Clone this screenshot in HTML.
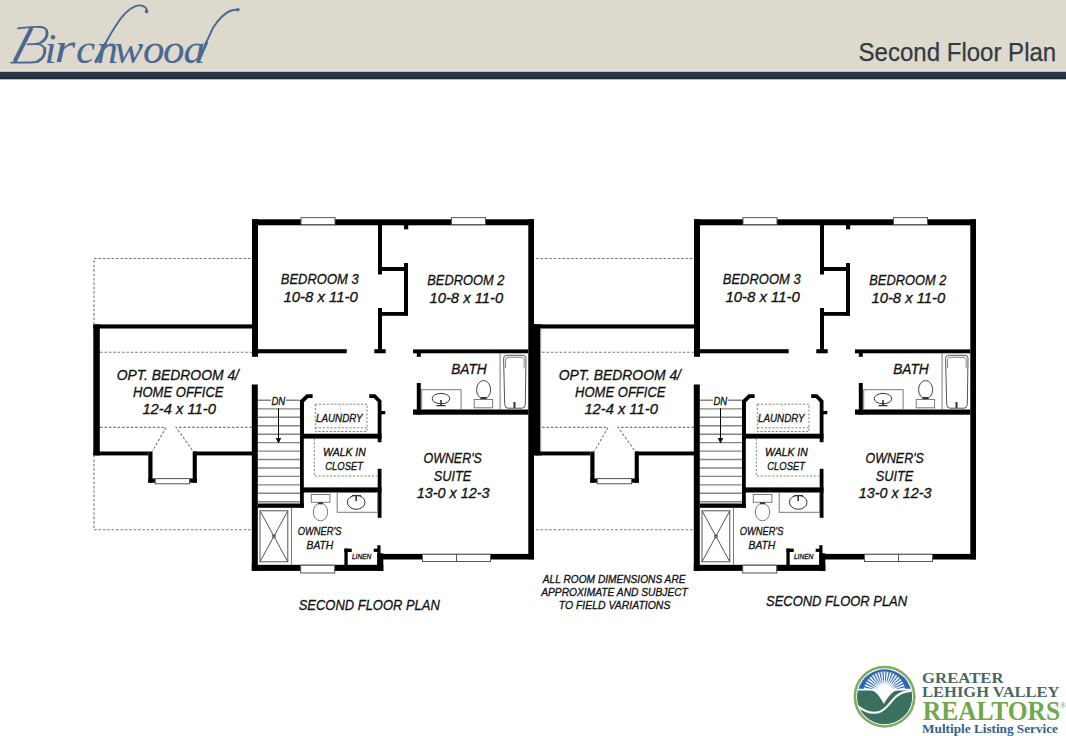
<!DOCTYPE html>
<html><head><meta charset="utf-8">
<style>
html,body{margin:0;padding:0;background:#fff;}
body{width:1066px;height:736px;overflow:hidden;position:relative;font-family:"Liberation Sans",sans-serif;}
svg{position:absolute;left:0;top:0;}
</style></head>
<body>
<svg width="1066" height="736" viewBox="0 0 1066 736">
<defs>
<g id="plan">
  <!-- dashed outlines -->
  <g fill="none" stroke="#7a7a7a" stroke-width="1.1" stroke-dasharray="2.6 1.8">
    <path d="M94 258.5 H252"/>
    <path d="M94 529.8 H252"/>
    <path d="M100 352.3 H252"/>
    <path d="M100 427.4 H166 L152.5 451"/>
    <path d="M252 427.4 H176 L193 451"/>
  </g>
  <!-- walls -->
  <g fill="#000">
    <rect x="252" y="219.3" width="282" height="6"/>
    <rect x="252" y="219.3" width="6" height="137.5"/>
    <rect x="528.3" y="219.3" width="5.7" height="340"/>
    <!-- closets between bedrooms -->
    <rect x="378" y="225" width="4" height="49.5"/>
    <rect x="382" y="267" width="22" height="4"/>
    <rect x="404" y="263" width="4" height="52.5"/>
    <rect x="382" y="312" width="26" height="3.8"/>
    <rect x="378" y="308" width="4" height="45"/>
    <rect x="374.3" y="349.2" width="11.4" height="4.1"/>
    <rect x="404" y="225" width="4.2" height="4.3"/>
    <!-- bedroom bottoms -->
    <rect x="258" y="349.2" width="88.7" height="4.1"/>
    <rect x="413" y="349.4" width="115.3" height="3.9"/>
    <rect x="416.8" y="353" width="4" height="3.8"/>
    <!-- bath -->
    <rect x="416.8" y="383" width="4" height="31.6"/>
    <rect x="413" y="409.5" width="115.3" height="5.2"/>
    <!-- opt bedroom 4 -->
    <rect x="93.3" y="324.4" width="158.7" height="4.1"/>
    <rect x="93.3" y="324.4" width="6.5" height="131"/>
    <rect x="93.3" y="451.5" width="55" height="3.9"/>
    <rect x="193" y="451.5" width="59" height="3.9"/>
    <rect x="148.3" y="451.5" width="4.2" height="31.2"/>
    <rect x="192.7" y="451.5" width="4.1" height="31.2"/>
    <rect x="148.3" y="478.5" width="48.5" height="4.2"/>
    <!-- stair -->
    <rect x="251.8" y="384.5" width="6" height="186.3"/>
    <rect x="300" y="400" width="3.8" height="107.8"/>
    <rect x="257.8" y="503.5" width="46" height="4.3"/>
    <!-- laundry -->
    <path d="M300 400.5 L306.5 394.3 H312.6 V398.1 H308.2 L303.8 402.3 V438.8 H300 Z"/>
    <path d="M369.2 394.3 H375.3 L381.5 400.5 V442.2 H377.7 V402.1 L373.8 398.1 H369.2 Z"/>
    <rect x="381" y="411" width="4.3" height="3.3"/>
    <rect x="300" y="433.7" width="81.5" height="4.9"/>
    <!-- closet -->
    <rect x="377.7" y="468.8" width="3.8" height="49"/>
    <rect x="300" y="487.4" width="81.5" height="5.1"/>
    <!-- owner's bath bottom -->
    <rect x="251.8" y="564.8" width="131.5" height="6.1"/>
    <!-- linen -->
    <rect x="344.4" y="548.6" width="3.3" height="17"/>
    <rect x="344.4" y="548.6" width="7.3" height="3.4"/>
    <rect x="377.3" y="545.2" width="3.2" height="20"/>
    <rect x="377.3" y="553.3" width="6" height="17.6"/>
    <rect x="373.7" y="548.7" width="5" height="3.2"/>
    <!-- owner's suite bottom -->
    <rect x="380" y="553.9" width="154" height="5.6"/>
  </g>
  <!-- windows -->
  <g fill="#fff" stroke="#555" stroke-width="1">
    <rect x="301" y="217.6" width="34" height="7"/>
    <rect x="451.5" y="217.6" width="34" height="7"/>
    <rect x="155.2" y="478.6" width="34.4" height="5.2"/>
    <rect x="300.7" y="565.2" width="34" height="7.8"/>
    <rect x="422.5" y="554.3" width="34" height="7.2"/>
    <rect x="456.5" y="554.3" width="34" height="7.2"/>
  </g>
  <!-- stairs -->
  <g stroke="#858585" stroke-width="1.4">
    <path d="M258 400.3 H271 M286 400.3 H300 M258 408.9 H300 M258 417.3 H300 M258 425.7 H300 M258 434.2 H300 M258 442.6 H300 M258 451.1 H300 M258 459.5 H300 M258 468 H300 M258 476.4 H300 M258 484.9 H300 M258 493.3 H300 M258 501.8 H300"/>
  </g>
  <path d="M278.5 408.3 V440" stroke="#000" stroke-width="1"/>
  <path d="M275.8 438 L281.2 438 L278.5 443.5 Z" fill="#000"/>
  <!-- laundry dashed -->
  <g fill="none" stroke="#777" stroke-width="0.9" stroke-dasharray="2.2 1.6">
    <rect x="315.3" y="404.2" width="51.7" height="27.3"/>
    <path d="M315.3 427.8 H367"/>
    <path d="M340.5 404.2 V431.5" stroke="#d0d0d0"/>
    <path d="M314.3 438.6 V476 H377"/>
  </g>
  <!-- bath fixtures -->
  <g fill="none" stroke="#7a7a7a" stroke-width="1">
    <rect x="421.7" y="389.7" width="39.4" height="19.8"/>
    <ellipse cx="441" cy="398.6" rx="8.8" ry="5.2" stroke="#333"/>
    <ellipse cx="483.6" cy="389.7" rx="7" ry="9.2" stroke="#444"/>
    <rect x="474.2" y="399.5" width="18.4" height="8.3" fill="#fff"/>
    <path d="M500.1 353.3 V409.5"/>
    <path d="M506.5 355.3 H523 Q526.2 355.3 526 358.5 L525.3 404.5 Q525.2 408.2 522 408.2 H508 Q504.8 408.2 504.7 404.5 L503.6 358.5 Q503.5 355.3 506.5 355.3 Z" stroke="#555"/>
    <path d="M505.6 368 L505.5 360 Q505.5 357.3 508 357.3 H521.8 Q524.3 357.3 524.2 360 L524 368" stroke="#888"/>
    <!-- owner's bath -->
    <rect x="311.3" y="494.5" width="18.6" height="7.8"/>
    <ellipse cx="320.5" cy="512" rx="7.2" ry="8.8"/>
    <rect x="337.2" y="492.5" width="40.5" height="19.8"/>
    <ellipse cx="356.2" cy="502.3" rx="8.8" ry="7" stroke="#333"/>
    <rect x="260" y="510.8" width="27.8" height="51" stroke="#555"/>
    <path d="M260 510.8 L287.8 561.8 M287.8 510.8 L260 561.8" stroke="#555"/>
    <path d="M291.5 507.8 V564.8"/>
    <circle cx="274" cy="536.3" r="1.6" stroke="#555"/>
  </g>
  <g fill="#333">
    <path d="M440.2 400 h1.6 v5 h-1.6z M436.5 405 h9 v1.3 h-9z"/>
    <path d="M355.4 496 h1.6 v5 h-1.6z M352 495 h9 v1.3 h-9z"/>
    <path d="M480.5 397 h6 v2 h-6z"/>
    <path d="M318 502.3 h5 v2 h-5z"/>
    <path d="M513.5 402 h2 v6 h-2z"/>
  </g>
  <!-- labels -->
  <g font-family="Liberation Sans" font-style="italic" fill="#111" stroke="#111" stroke-width="0.3">
    <text x="280.8" y="284.3" font-size="14.5" textLength="77.8" lengthAdjust="spacingAndGlyphs">BEDROOM 3</text>
    <text x="283.5" y="301.8" font-size="14.5" textLength="74.3" lengthAdjust="spacingAndGlyphs">10-8 x 11-0</text>
    <text x="427.3" y="285" font-size="14.5" textLength="77" lengthAdjust="spacingAndGlyphs">BEDROOM 2</text>
    <text x="429.5" y="302.5" font-size="14.5" textLength="73.6" lengthAdjust="spacingAndGlyphs">10-8 x 11-0</text>
    <text x="451.2" y="373.9" font-size="14.5" textLength="35.5" lengthAdjust="spacingAndGlyphs">BATH</text>
    <text x="116.7" y="380" font-size="14.5" textLength="122.3" lengthAdjust="spacingAndGlyphs">OPT. BEDROOM 4/</text>
    <text x="133.1" y="396.9" font-size="14.5" textLength="90.4" lengthAdjust="spacingAndGlyphs">HOME OFFICE</text>
    <text x="142.4" y="414.4" font-size="14.5" textLength="73.5" lengthAdjust="spacingAndGlyphs">12-4 x 11-0</text>
    <text x="271.4" y="404.9" font-size="11" textLength="13.8" lengthAdjust="spacingAndGlyphs">DN</text>
    <text x="316" y="421.9" font-size="11" textLength="46.5" lengthAdjust="spacingAndGlyphs">LAUNDRY</text>
    <text x="323.1" y="456.2" font-size="10.5" textLength="42.7" lengthAdjust="spacingAndGlyphs">WALK IN</text>
    <text x="325.3" y="469.7" font-size="10.5" textLength="37.7" lengthAdjust="spacingAndGlyphs">CLOSET</text>
    <text x="423.5" y="463.2" font-size="14.5" textLength="58.3" lengthAdjust="spacingAndGlyphs">OWNER'S</text>
    <text x="433.7" y="480.8" font-size="14.5" textLength="37.6" lengthAdjust="spacingAndGlyphs">SUITE</text>
    <text x="416.8" y="498.1" font-size="14.5" textLength="72.8" lengthAdjust="spacingAndGlyphs">13-0 x 12-3</text>
    <text x="297.8" y="535.2" font-size="10.9" textLength="43.6" lengthAdjust="spacingAndGlyphs">OWNER'S</text>
    <text x="306.5" y="548.7" font-size="10.9" textLength="26.8" lengthAdjust="spacingAndGlyphs">BATH</text>
    <text x="351.9" y="558.5" font-size="7.3" textLength="19.5" lengthAdjust="spacingAndGlyphs">LINEN</text>
  </g>
</g>
</defs>

<!-- header -->
<defs><linearGradient id="nv" x1="0" y1="0" x2="0" y2="1"><stop offset="0" stop-color="#2d3347"/><stop offset="0.6" stop-color="#2b3646"/><stop offset="1" stop-color="#1d2833"/></linearGradient></defs>
<rect x="0" y="0" width="1066" height="72" fill="#ddd9cd"/>
<rect x="0" y="69.5" width="1066" height="2.4" fill="#e1e0da"/>
<rect x="0" y="71.8" width="1066" height="7.5" fill="url(#nv)"/>

<use href="#plan"/>
<use href="#plan" transform="translate(442,0)"/>
<rect x="533.5" y="324" width="3" height="131.4" fill="#000"/>
<rect x="540.4" y="328.5" width="1.5" height="123" fill="#fff"/>
<path d="M94 324.5 V258.5 M94 455 V529.8" fill="none" stroke="#7a7a7a" stroke-width="1.1" stroke-dasharray="2.6 1.8"/>

<g font-family="Liberation Sans" font-style="italic" fill="#111" stroke="#111" stroke-width="0.3">
  <text x="298.7" y="609.8" font-size="14.5" textLength="141.1" lengthAdjust="spacingAndGlyphs">SECOND FLOOR PLAN</text>
  <text x="766" y="605.5" font-size="14.5" textLength="141.1" lengthAdjust="spacingAndGlyphs">SECOND FLOOR PLAN</text>
  <text x="542.8" y="582.5" font-size="10.3" textLength="142.7" lengthAdjust="spacingAndGlyphs">ALL ROOM DIMENSIONS ARE</text>
  <text x="541.2" y="595.6" font-size="10.3" textLength="146.7" lengthAdjust="spacingAndGlyphs">APPROXIMATE AND SUBJECT</text>
  <text x="558.7" y="608.9" font-size="10.3" textLength="111.7" lengthAdjust="spacingAndGlyphs">TO FIELD VARIATIONS</text>
</g>

<!-- header text -->
<text x="858.6" y="61.3" font-family="Liberation Sans" font-size="26.5" fill="#323a44" stroke="#323a44" stroke-width="0.25" textLength="197.6" lengthAdjust="spacingAndGlyphs">Second Floor Plan</text>
<g fill="#4c6893" font-family="Liberation Serif" font-style="italic">
  <g font-size="43">
    <text x="44.5" y="62.5">i</text>
    <text x="55" y="62.5" transform="translate(57 0) scale(1.25 1) translate(-57 0)">r</text>
    <text x="76" y="62.5">c</text>
    <text x="96.5" y="62.5">n</text>
    <text x="114.5" y="62.5">w</text>
    <text x="143" y="62.5">o</text>
    <text x="163" y="62.5">o</text>
    <text x="183.5" y="62.5">a</text>
  </g>
</g>
<g fill="none" stroke="#4c6893" stroke-linecap="round">
  <path d="M104 46 C108 39 111 33 114.3 28 C121 17 128 9 135.5 6.2 C141 4.3 146.5 6 147 11" stroke-width="1.9"/>
  <path d="M96 61.5 L105.5 44" stroke-width="3.2"/>
  <path d="M205 45 C208 39 210.5 33 213 28 C218 20 224 13.5 230 11 C233 9.8 236 9.5 238.5 9.8" stroke-width="1.9"/>
  <path d="M199.5 59 L206.5 43" stroke-width="2.8"/>
</g>
<circle cx="146.6" cy="11.5" r="1.8" fill="#4c6893"/>
<circle cx="237.8" cy="9.8" r="1.7" fill="#4c6893"/>
<g fill="none" stroke="#4c6893" stroke-linecap="round">
  <path d="M31 29 L15.2 60.5" stroke-width="4"/>
  <path d="M18 28.4 C25 27.3 34 26.6 40.5 27 C46.5 27.6 48.3 31 47.4 35.2 C46.3 40 41.5 43.4 35 44 L27.5 44.4" stroke-width="1.8"/>
  <path d="M46.6 31 C47.6 35 45.5 39.5 41.5 42" stroke-width="2.6"/>
  <path d="M34.5 43.9 C41.5 43.8 45.7 47 45 52.3 C44.2 58.5 38.5 62.4 31.5 62.5 L11 62.6" stroke-width="1.8"/>
  <path d="M44.8 48.5 C45.5 54 42.5 59 37.5 61.5" stroke-width="2.8"/>
</g>

<!-- logo -->
<defs><clipPath id="lc"><circle cx="884.6" cy="696.7" r="27.4"/></clipPath>
<radialGradient id="sun" cx="0.5" cy="0.5" r="0.5"><stop offset="0" stop-color="#fff"/><stop offset="0.55" stop-color="#fff"/><stop offset="1" stop-color="#fff" stop-opacity="0"/></radialGradient></defs>
<circle cx="884.6" cy="696.7" r="29.7" fill="#fff" stroke="#80ad60" stroke-width="2.6"/>
<g clip-path="url(#lc)">
  <rect x="855" y="667" width="60" height="60" fill="#2b69b1"/>
  <g fill="#ffffff" transform="translate(884.5 692.5)">
    <path d="M0 0 L-20.72 -3.43 L-20.32 -5.29Z M0 0 L-19.96 -6.51 L-19.29 -8.30Z M0 0 L-18.76 -9.45 L-17.82 -11.11Z M0 0 L-17.12 -12.16 L-15.94 -13.67Z M0 0 L-15.09 -14.61 L-13.70 -15.91Z M0 0 L-12.72 -16.71 L-11.15 -17.80Z M0 0 L-10.05 -18.44 L-8.34 -19.27Z M0 0 L-7.16 -19.74 L-5.34 -20.31Z M0 0 L-4.10 -20.60 L-2.22 -20.88Z M0 0 L-0.95 -20.98 L0.95 -20.98Z M0 0 L2.22 -20.88 L4.10 -20.60Z M0 0 L5.34 -20.31 L7.16 -19.74Z M0 0 L8.34 -19.27 L10.05 -18.44Z M0 0 L11.15 -17.80 L12.72 -16.71Z M0 0 L13.70 -15.91 L15.09 -14.61Z M0 0 L15.94 -13.67 L17.12 -12.16Z M0 0 L17.82 -11.11 L18.76 -9.45Z M0 0 L19.29 -8.30 L19.96 -6.51Z M0 0 L20.32 -5.29 L20.72 -3.43Z" opacity="0.92"/>
    <circle cx="0" cy="0" r="13" fill="url(#sun)"/>
  </g>
  <path d="M850 690.8 H920 V730 H850Z" fill="#3b705f"/>
  <path d="M850 688.8 H920 V690.6 H850Z" fill="#fff"/>
  <path d="M868.5 689.5 C875.5 690 879.5 696 883.8 704 C888.5 696 893 690 900 689.5Z" fill="#fff"/>
  <path d="M856 704.5 C863 711 871 714 878.5 712.3 C886 710.5 890 702 896 696.5 C900 693 905 691 913 690.5" fill="none" stroke="#fff" stroke-width="2.1"/>
</g>
<g font-family="Liberation Serif" font-weight="bold">
  <text x="922.1" y="683.1" font-size="14.6" fill="#4b6a5f" textLength="81.4" lengthAdjust="spacingAndGlyphs">GREATER</text>
  <text x="922.1" y="696.9" font-size="14" fill="#4b6a5f" textLength="137.4" lengthAdjust="spacingAndGlyphs">LEHIGH VALLEY</text>
  <text x="922.8" y="719.5" font-size="26.5" fill="#72a74f" textLength="137.4" lengthAdjust="spacingAndGlyphs">REALTORS</text>
  <text x="1059.8" y="708" font-size="8.5" fill="#72a74f" font-weight="normal">&#174;</text>
  <text x="922.1" y="732.7" font-size="11.5" fill="#33608f" textLength="135.9" lengthAdjust="spacingAndGlyphs">Multiple Listing Service</text>
</g>

</svg>
</body></html>
